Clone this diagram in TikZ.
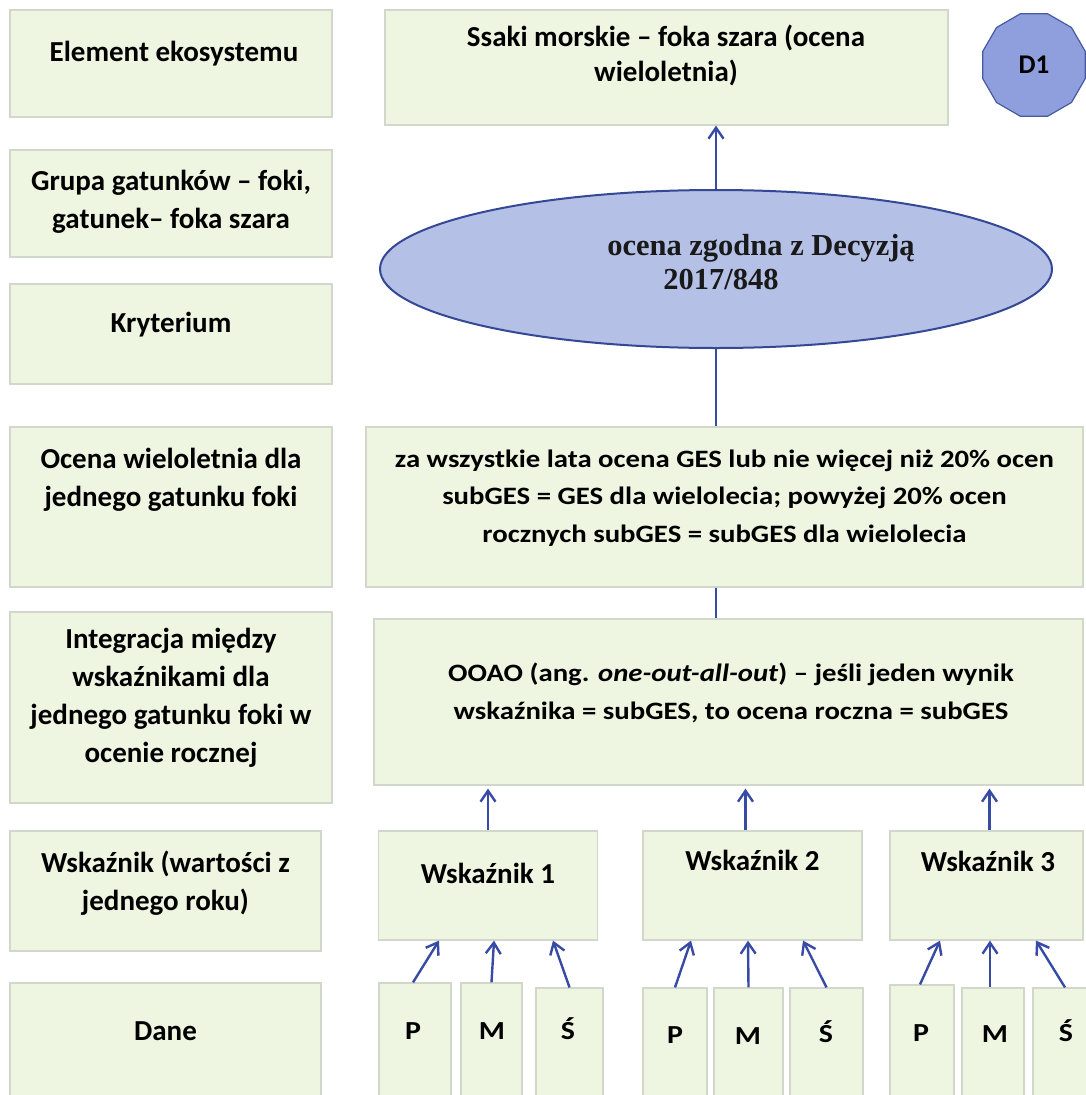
\documentclass[tikz,border=0pt]{standalone}
\usepackage{fontspec}
\setmainfont{Carlito}
\newfontfamily\widefont{Carlito}[FakeStretch=1.15]
\newfontfamily\decfont{Liberation Serif}
\usetikzlibrary{arrows.meta,shapes.geometric}
\definecolor{boxgreen}{RGB}{238,246,226}
\definecolor{boxline}{RGB}{210,215,204}
\definecolor{ellfill}{RGB}{181,192,230}
\definecolor{ellline}{RGB}{52,72,150}
\definecolor{dfill}{RGB}{143,158,220}
\definecolor{dline}{RGB}{72,90,160}
\definecolor{arrblue}{RGB}{55,75,165}

\begin{document}
\begin{tikzpicture}[x=1pt, y=-1pt,
    box/.style={draw=boxline, fill=boxgreen, line width=1.2pt, inner sep=0pt},
    lbl/.style={anchor=base, align=center, inner sep=0pt, font=\bfseries\fontsize{29}{38}\selectfont},
    wlbl/.style={anchor=base, align=center, inner sep=0pt, font=\widefont\bfseries\fontsize{25}{37.5}\selectfont},
    dlbl/.style={anchor=base, inner sep=0pt, font=\widefont\bfseries\fontsize{26}{30}\selectfont},
    arr/.style={draw=arrblue, line width=2.4pt, -{Straight Barb[length=11pt, width=15pt]}},
    ln/.style={draw=arrblue, line width=2.4pt}
]
\useasboundingbox (0,0) rectangle (1085,1095);

% lewa kolumna (base = linia bazowa ostatniego wiersza)
\node[box, minimum width=322pt, minimum height=107pt] (lEl) at (171,63.5) {};
\node[lbl] (lElT) at (174,61) {Element ekosystemu};
\node[box, minimum width=322pt, minimum height=107pt] (lGr) at (171,203.5) {};
\node[lbl] (lGrT) at (171,228) {Grupa gatunków – foki,\\gatunek– foka szara};
\node[box, minimum width=322pt, minimum height=100pt] (lKr) at (171,334) {};
\node[lbl] (lKrT) at (171,332) {Kryterium};
\node[box, minimum width=322pt, minimum height=160pt] (lOc) at (171,507) {};
\node[lbl] (lOcT) at (171,506) {Ocena wieloletnia dla\\jednego gatunku foki};
\node[box, minimum width=322pt, minimum height=191pt] (lIn) at (171,707.5) {};
\node[lbl] (lInT) at (171,762) {Integracja między\\wskaźnikami dla\\jednego gatunku foki w\\ocenie rocznej};
\node[box, minimum width=311pt, minimum height=120pt] (lWs) at (165.5,891) {};
\node[lbl] (lWsT) at (165.5,910) {Wskaźnik (wartości z\\jednego roku)};
\node[box, minimum width=311pt, minimum height=117pt] (lDa) at (165.5,1041.5) {};
\node[lbl] (lDaT) at (165.5,1040) {Dane};

% prawa kolumna
\node[box, minimum width=563pt, minimum height=115pt] (ssaki) at (666.5,67.5) {};
\node[lbl, font=\bfseries\fontsize{29}{35}\selectfont] (ssakiT) at (666,81) {Ssaki morskie – foka szara (ocena\\wieloletnia)};
\node[regular polygon, regular polygon sides=12, minimum size=106pt, inner sep=0pt,
      fill=dfill, draw=dline, line width=1.2pt, font=\bfseries\fontsize{27}{30}\selectfont] (d1) at (1034,65) {D1};

\node[ellipse, minimum width=672pt, minimum height=158pt, inner sep=0pt,
      fill=ellfill, draw=ellline, line width=2pt] (ocena) at (716,269) {};
\node[anchor=base, align=center, inner sep=0pt, text=black!90,
      font=\decfont\bfseries\fontsize{30.5}{34}\selectfont] (ocenaT) at (761,289)
      {ocena zgodna z Decyzją\\2017/848\hspace*{80pt}};

\node[box, minimum width=717pt, minimum height=160pt] (wiel) at (724.5,507) {};
\node[wlbl] (wielT) at (724.5,542) {za wszystkie lata ocena GES lub nie więcej niż 20\% ocen\\subGES = GES dla wielolecia; powyżej 20\% ocen\\rocznych subGES = subGES dla wielolecia};
\node[box, minimum width=709pt, minimum height=166pt] (ooao) at (728.5,702) {};
\node[wlbl] (ooaoT) at (731,719) {OOAO (ang. \textit{one-out-all-out}) – jeśli jeden wynik\\wskaźnika = subGES, to ocena roczna = subGES};

\node[box, minimum width=219pt, minimum height=109pt] (wsk1) at (488,885.5) {};
\node[lbl] (wsk1T) at (488,883) {Wskaźnik 1};
\node[box, minimum width=219pt, minimum height=109pt] (wsk2) at (752.5,885.5) {};
\node[lbl] (wsk2T) at (752.5,870) {Wskaźnik 2};
\node[box, minimum width=193pt, minimum height=109pt] (wsk3) at (986.5,885.5) {};
\node[lbl] (wsk3T) at (988,871) {Wskaźnik 3};

% dane
\node[box, minimum width=72pt, minimum height=117pt] (p1) at (415,1041.5) {};
\node[box, minimum width=61pt, minimum height=117pt] (m1) at (491.5,1041.5) {};
\node[box, minimum width=67pt, minimum height=112pt] (s1) at (569.5,1044) {};
\node[box, minimum width=64pt, minimum height=112pt] (p2) at (675,1044) {};
\node[box, minimum width=69pt, minimum height=112pt] (m2) at (748.5,1044) {};
\node[box, minimum width=73pt, minimum height=112pt] (s2) at (826.5,1044) {};
\node[box, minimum width=64pt, minimum height=115pt] (p3) at (922,1042.5) {};
\node[box, minimum width=62pt, minimum height=112pt] (m3) at (993,1044) {};
\node[box, minimum width=57pt, minimum height=112pt] (s3) at (1061.5,1044) {};
\node[dlbl] (p1T) at (413,1039) {P};
\node[dlbl] (m1T) at (492,1039) {M};
\node[dlbl] (s1T) at (568,1039) {Ś};
\node[dlbl] (p2T) at (675,1043) {P};
\node[dlbl] (m2T) at (748,1044) {M};
\node[dlbl] (s2T) at (826,1042) {Ś};
\node[dlbl] (p3T) at (921,1041) {P};
\node[dlbl] (m3T) at (995,1042) {M};
\node[dlbl] (s3T) at (1066,1041) {Ś};

% strzalki
\draw[arr] (ocena.north) -- (ocena.north |- ssaki.south);
\draw[ln] (ocena.south) -- (ocena.south |- wiel.north);
\draw[ln] (ocena.south |- wiel.south) -- (ocena.south |- ooao.north);
\draw[arr] (wsk1.north) -- ([yshift=-3pt]wsk1.north |- ooao.south);
\draw[arr] ([xshift=-7pt]wsk2.north) -- ([xshift=-7pt, yshift=-3pt]wsk2.north |- ooao.south);
\draw[arr] ([xshift=3pt]wsk3.north) -- ([xshift=3pt, yshift=-3pt]wsk3.north |- ooao.south);

\draw[arr] ([xshift=-2pt]p1.north) -- ([xshift=-49pt]wsk1.south);
\draw[arr] (m1.north) -- ([xshift=6pt]wsk1.south);
\draw[arr] (s1.north) -- ([xshift=65pt]wsk1.south);
\draw[arr] (p2.north) -- ([xshift=-61.5pt]wsk2.south);
\draw[arr] (m2.north) -- ([xshift=-4.5pt]wsk2.south);
\draw[arr] (s2.north) -- ([xshift=50.5pt]wsk2.south);
\draw[arr] ([xshift=-2pt]p3.north) -- ([xshift=-46.5pt]wsk3.south);
\draw[arr] ([xshift=-3pt]m3.north) -- ([xshift=3.5pt]wsk3.south);
\draw[arr] ([xshift=3.5pt]s3.north) -- ([xshift=49.5pt]wsk3.south);
\end{tikzpicture}
\end{document}
